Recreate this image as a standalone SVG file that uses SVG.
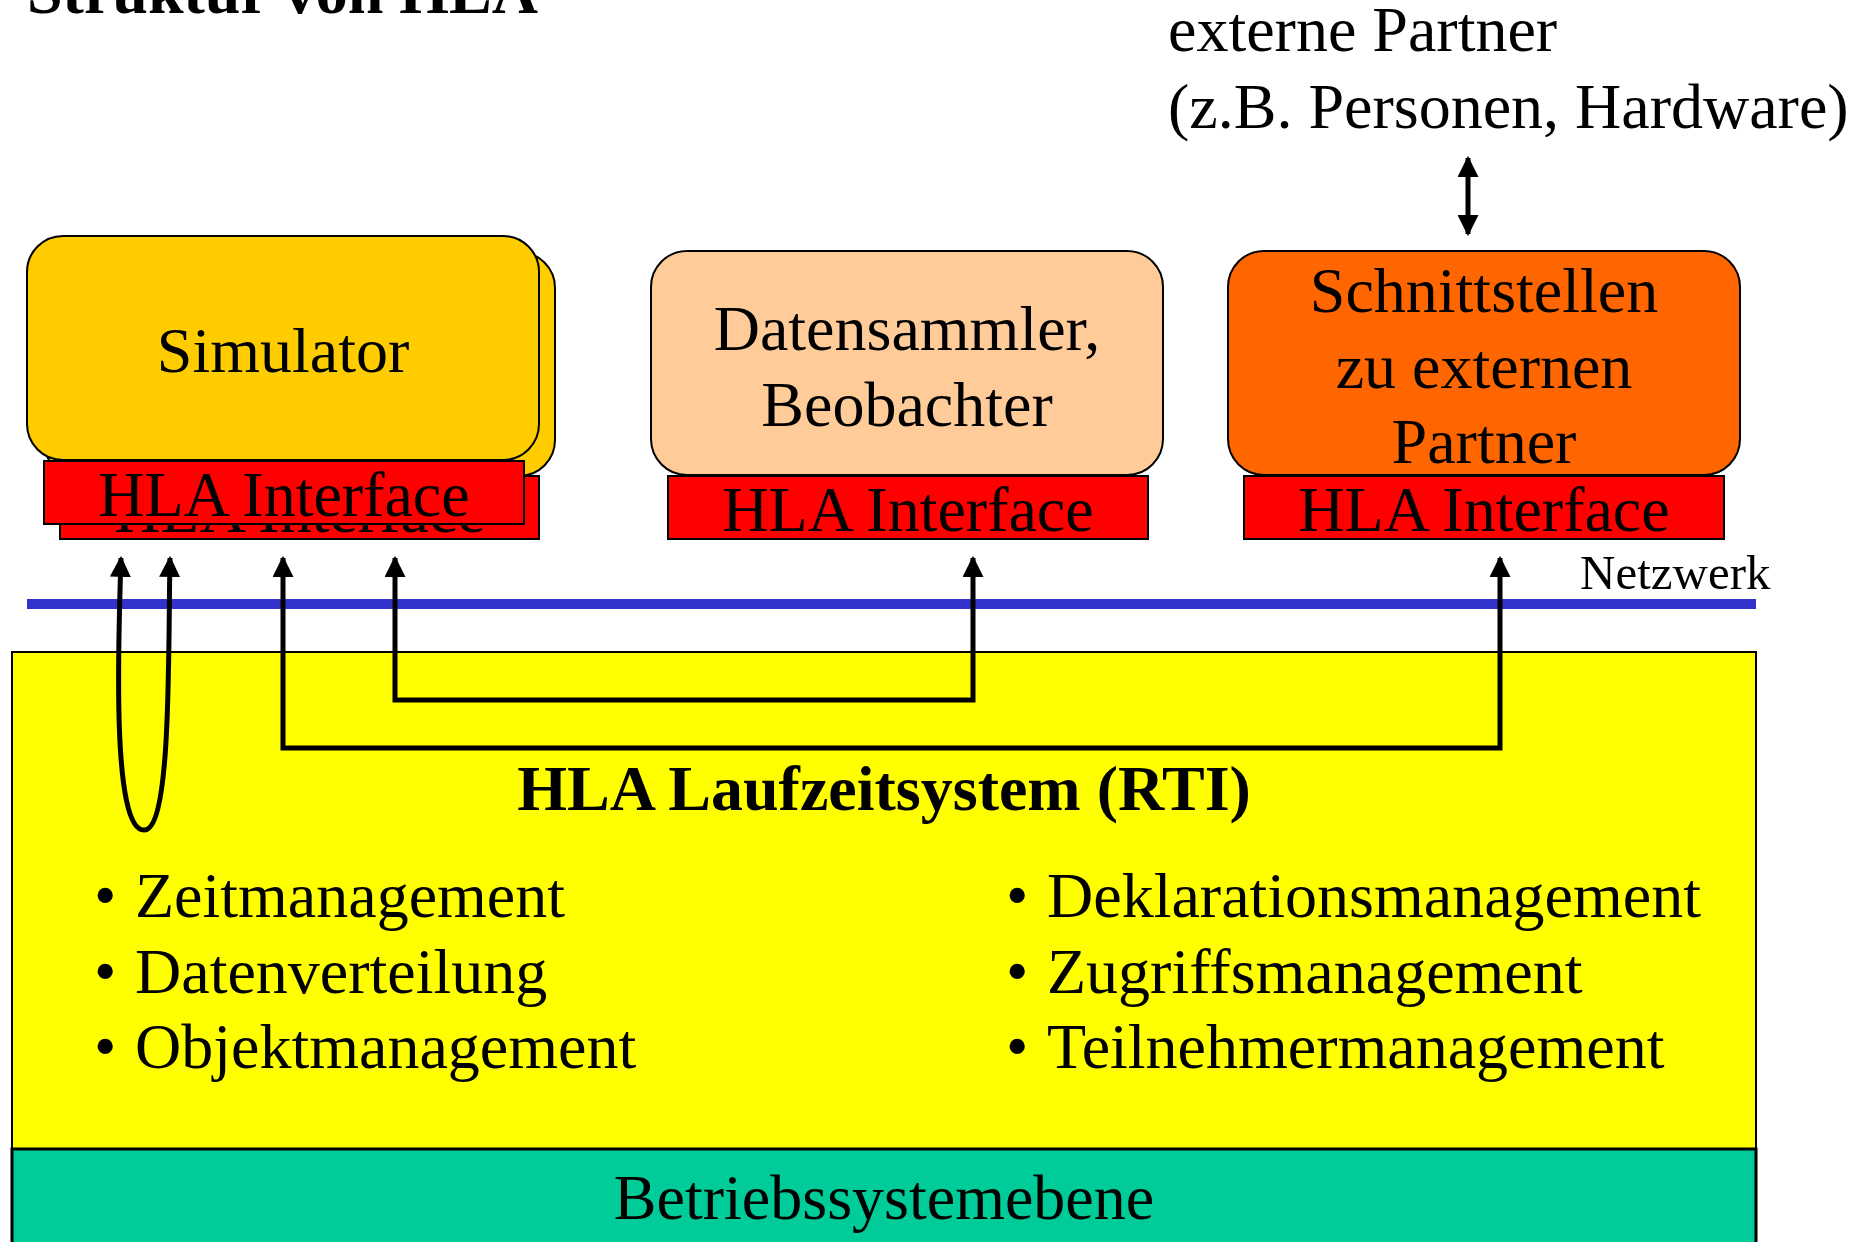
<svg xmlns="http://www.w3.org/2000/svg" width="1867" height="1242" viewBox="0 0 1867 1242">
  <style>
    text { font-family: "Liberation Serif", "Times New Roman", serif; fill: #000; }
    .t64 { font-size: 64px; }
    .mid { text-anchor: middle; }
    .bold { font-weight: bold; }
    .box { stroke: #000; stroke-width: 2; }
    .iface { fill: #FF0000; stroke: #000; stroke-width: 2; }
    .wire { fill: none; stroke: #000; stroke-width: 5; stroke-linejoin: miter; }
  </style>
  <defs>
    <marker id="head" viewBox="0 0 10 10" refX="9" refY="5" markerWidth="4.2" markerHeight="4.2" orient="auto-start-reverse" markerUnits="strokeWidth">
      <path d="M0,0 L10,5 L0,10 Z" fill="#000"/>
    </marker>
  </defs>

  <rect width="1867" height="1242" fill="#fff"/>

  <!-- heading -->
  <text id="title" class="t64 bold" x="27" y="13">Struktur von HLA</text>

  <!-- external partners -->
  <g id="extern">
    <text class="t64" x="1168" y="51">externe Partner</text>
    <text class="t64" x="1168" y="128">(z.B. Personen, Hardware)</text>
  </g>

  <!-- runtime layer -->
  <g id="rti">
    <rect class="box" x="12" y="652" width="1744" height="497" fill="#FFFF00"/>
    <text class="t64 bold mid" x="884" y="810">HLA Laufzeitsystem (RTI)</text>
    <text class="t64"><tspan x="94" y="917">•</tspan><tspan x="135">Zeitmanagement</tspan></text>
    <text class="t64"><tspan x="94" y="993">•</tspan><tspan x="135">Datenverteilung</tspan></text>
    <text class="t64"><tspan x="94" y="1068">•</tspan><tspan x="135">Objektmanagement</tspan></text>
    <text class="t64"><tspan x="1006" y="917">•</tspan><tspan x="1047">Deklarationsmanagement</tspan></text>
    <text class="t64"><tspan x="1006" y="993">•</tspan><tspan x="1047">Zugriffsmanagement</tspan></text>
    <text class="t64"><tspan x="1006" y="1068">•</tspan><tspan x="1047">Teilnehmermanagement</tspan></text>
  </g>

  <!-- operating system layer -->
  <g id="os">
    <rect x="12" y="1149" width="1744" height="110" fill="#00CC99" stroke="#000" stroke-width="3"/>
    <text class="t64 mid" x="884" y="1219">Betriebssystemebene</text>
  </g>

  <!-- network -->
  <g id="network">
    <line x1="27" y1="604" x2="1756" y2="604" stroke="#3333CC" stroke-width="10"/>
    <text x="1580" y="589" font-size="49">Netzwerk</text>
  </g>

  <!-- simulator (stacked pair) -->
  <g id="simulator">
    <rect class="box" x="43" y="252" width="512" height="224" rx="36" fill="#FFCC00"/>
    <rect class="iface" x="60" y="476" width="479" height="63"/>
    <text class="t64 mid" x="300" y="532">HLA Interface</text>
    <rect class="box" x="27" y="236" width="512" height="224" rx="36" fill="#FFCC00"/>
    <text class="t64 mid" x="283" y="372">Simulator</text>
    <rect class="iface" x="44" y="461" width="480" height="63"/>
    <text class="t64 mid" x="284" y="516">HLA Interface</text>
  </g>

  <!-- data collector / observer -->
  <g id="collector">
    <rect class="box" x="651" y="251" width="512" height="224" rx="36" fill="#FFCC99"/>
    <text class="t64 mid" x="907" y="350">Datensammler,</text>
    <text class="t64 mid" x="907" y="426">Beobachter</text>
    <rect class="iface" x="668" y="476" width="480" height="63"/>
    <text class="t64 mid" x="908" y="531">HLA Interface</text>
  </g>

  <!-- gateway to external partners -->
  <g id="gateway">
    <rect class="box" x="1228" y="251" width="512" height="224" rx="36" fill="#FF6600"/>
    <text class="t64 mid" x="1484" y="312">Schnittstellen</text>
    <text class="t64 mid" x="1484" y="388">zu externen</text>
    <text class="t64 mid" x="1484" y="463">Partner</text>
    <rect class="iface" x="1244" y="476" width="480" height="63"/>
    <text class="t64 mid" x="1484" y="531">HLA Interface</text>
  </g>

  <!-- connectors -->
  <g id="connectors">
    <path class="wire" d="M121,558 C118,650 112,830 144,830 C172,830 168,650 170,558" marker-start="url(#head)" marker-end="url(#head)"/>
    <path class="wire" d="M283,558 L283,748 L1500,748 L1500,558" marker-start="url(#head)" marker-end="url(#head)"/>
    <path class="wire" d="M395,558 L395,700 L973,700 L973,558" marker-start="url(#head)" marker-end="url(#head)"/>
    <line class="wire" x1="1468" y1="158" x2="1468" y2="234" stroke-width="4" marker-start="url(#head)" marker-end="url(#head)"/>
  </g>
</svg>
